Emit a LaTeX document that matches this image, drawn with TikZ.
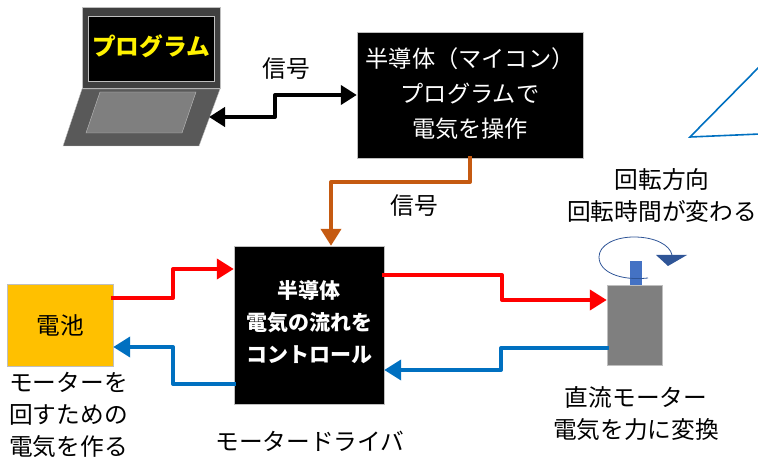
\documentclass[tikz,border=0pt]{standalone}
\usepackage{fontspec}
\setmainfont{Noto Sans CJK JP}
\usetikzlibrary{arrows.meta}
\tikzset{
  blackbox/.style={draw=lightgray,fill=black,text=white,inner sep=0pt,align=center},
  wire/.style={line width=4pt,line join=round,shorten <=-2pt,-{Triangle[length=17pt,width=20pt]}},
  caption/.style={inner sep=0pt,align=center,font=\fontsize{23.7}{32}\selectfont},
  captionl/.style={caption,align=left,anchor=north west},
}
\definecolor{wireorange}{HTML}{C55A11}
\definecolor{wireblue}{HTML}{0070C0}
\definecolor{battcolor}{HTML}{FFC000}
\definecolor{motorgray}{HTML}{7F7F7F}
\definecolor{shaftblue}{HTML}{4472C4}
\definecolor{turnblue}{HTML}{2F5597}
\begin{document}
\begin{tikzpicture}[x=1pt,y=-1pt]
\useasboundingbox (0,0) rectangle (758,457);

% laptop
\path[draw=lightgray,fill=black!75] (82,7) rectangle (220,88);
\path[draw=lightgray,fill=black!65] (82,89) -- (220,89) -- (199,146) -- (63,146) -- cycle;
\path[draw=lightgray,fill=motorgray] (100,92) -- (196,92) -- (182,133) -- (86,133) -- cycle;
\node[draw=lightgray,fill=black,text=yellow,minimum width=126pt,minimum height=65pt,inner sep=0pt,font=\fontsize{23.7}{28}\selectfont\bfseries] (screen) at (151,48.5) {\raisebox{7pt}{プログラム}};
\coordinate (laptopport) at (209,117);

% boxes
\node[blackbox,minimum width=226pt,minimum height=126pt,text depth=5pt,font=\fontsize{23.2}{35}\selectfont] (mcu) at (470,95) {半導体（マイコン）\\プログラムで\\電気を操作};
\node[blackbox,minimum width=150pt,minimum height=158pt,text depth=7pt,font=\fontsize{21}{32}\selectfont\bfseries] (driver) at (309,325) {半導体\\電気の流れを\\コントロール};
\node[draw=lightgray,fill=battcolor,minimum width=106pt,minimum height=82pt,inner sep=0pt,font=\fontsize{23.7}{28}\selectfont] (battery) at (60,325) {電池};
\node[draw=lightgray,fill=motorgray,minimum width=55pt,minimum height=80pt,inner sep=0pt] (motor) at (634.5,325) {};
\node[fill=shaftblue,minimum width=12pt,minimum height=24pt,inner sep=0pt] (shaft) at (635.5,273) {};

% rotation mark
\draw[turnblue,line width=0.8pt] (648,278) .. controls (620,281) and (599,272) .. (599,257) .. controls (599,245) and (615,237) .. (634,237) .. controls (655,237) and (670,245) .. (672,255);
\path[fill=turnblue] (656,255) -- (687,255) -- (668,266) -- cycle;

% callout
\draw[wireblue,line width=1.6pt] (760,66) -- (690,137) -- (760,134);

% connectors
\draw[wire,{Triangle[length=16pt,width=19pt]}-{Triangle[length=16pt,width=19pt]},shorten <=0pt] (laptopport) -- (275,117) -- (275,95) -- (mcu.west |- 0,95);
\draw[wire,wireorange] (mcu.south -| 470,0) -- (470,182) -- (331,182) -- (driver.north -| 331,0);
\draw[wire,red] (battery.east |- 0,298) -- (173,298) -- (173,269) -- (driver.west |- 0,269);
\draw[wire,red] (driver.east |- 0,275) -- (502,275) -- (502,300) -- (motor.west |- 0,300);
\draw[wire,wireblue] (motor.west |- 0,348) -- (501,348) -- (501,370) -- (driver.east |- 0,370);
\draw[wire,wireblue] (driver.west |- 0,384) -- (173,384) -- (173,347) -- (battery.east |- 0,347);

% labels
\node[caption] (sigtop) at (286,69) {信号};
\node[caption] (sigmid) at (414,206) {信号};
\node[caption] (turnlabel) at (662,195) {回転方向\\回転時間が変わる};
\node[captionl] (battlabel) at (9,372) {モーターを\\回すための\\電気を作る};
\node[caption] (driverlabel) at (310,441) {モータードライバ};
\node[caption] (motorlabel) at (636,414) {直流モーター\\電気を力に変換};

\end{tikzpicture}
\end{document}
